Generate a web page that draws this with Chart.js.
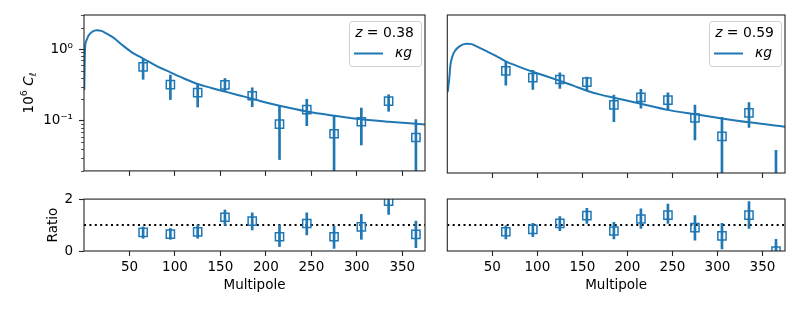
<!DOCTYPE html>
<html>
<head>
<meta charset="utf-8">
<script src="https://cdn.jsdelivr.net/npm/chart.js@4.4.1/dist/chart.umd.min.js"></script>
<style>
  html, body { margin: 0; padding: 0; background: #fff; }
  #fig { position: relative; width: 800px; height: 310px; }
  .panel { position: absolute; }
</style>
</head>
<body>
<div id="fig">
  <div class="panel" style="left:0;top:0"><canvas id="clA" width="440" height="185"></canvas></div>
  <div class="panel" style="left:440px;top:0"><canvas id="clB" width="360" height="185"></canvas></div>
  <div class="panel" style="left:0;top:185px"><canvas id="ratioA" width="440" height="125"></canvas></div>
  <div class="panel" style="left:440px;top:185px"><canvas id="ratioB" width="360" height="125"></canvas></div>
</div>
<script>
// multipole bins and axis ticks
const ellBins = [65, 95, 125, 155, 185, 215, 245, 275, 305, 335, 365];
const ellTicks = [50, 100, 150, 200, 250, 300, 350];
const ellMin = 0;
const ellMax = 375;

// z = 0.38 panel
const clA = [0.567, 0.321, 0.247, 0.317, 0.224, 0.090, 0.143, 0.066, 0.097, 0.188, 0.0585];
const clALo = [0.38, 0.198, 0.156, 0.258, 0.157, 0.0288, 0.0855, 0.015, 0.046, 0.136, 0.013];
const clAHi = [0.73, 0.435, 0.324, 0.39, 0.289, 0.16, 0.20, 0.117, 0.151, 0.231, 0.104];
const curveEllA = [0.3, 1.1, 2.5, 5, 9, 14, 19, 25, 32, 43, 54, 65, 80, 95, 110, 125, 140, 155, 170, 185, 200, 215, 245, 275, 305, 335, 375];
const curveClA = [0.27, 1.0, 1.3, 1.55, 1.75, 1.84, 1.8, 1.65, 1.46, 1.12, 0.88, 0.74, 0.58, 0.475, 0.39, 0.326, 0.288, 0.256, 0.228, 0.204, 0.18, 0.162, 0.135, 0.118, 0.105, 0.097, 0.089];
const ratioA = [0.72, 0.65, 0.74, 1.30, 1.15, 0.55, 1.06, 0.55, 0.93, 1.92, 0.64];
const ratioALo = [0.49, 0.45, 0.49, 1.0, 0.81, 0.17, 0.62, 0.10, 0.45, 1.41, 0.13];
const ratioAHi = [0.93, 0.87, 1.0, 1.58, 1.47, 1.0, 1.47, 0.96, 1.41, 2.4, 1.15];

// z = 0.59 panel
const clB = [0.509, 0.413, 0.388, 0.356, 0.174, 0.22, 0.202, 0.115, 0.064, 0.135, 0.003];
const clBLo = [0.324, 0.283, 0.292, 0.277, 0.102, 0.156, 0.147, 0.057, 0.011, 0.085, 0.001];
const clBHi = [0.676, 0.52, 0.478, 0.42, 0.237, 0.283, 0.254, 0.173, 0.117, 0.186, 0.041];
const curveEllB = [0.4, 1.9, 3.6, 6, 8.4, 13.9, 21, 27, 32, 43, 54, 65, 80, 95, 110, 125, 140, 155, 170, 185, 215, 245, 275, 305, 335, 375];
const curveClB = [0.26, 0.37, 0.63, 0.83, 0.96, 1.12, 1.21, 1.19, 1.12, 0.96, 0.82, 0.69, 0.58, 0.495, 0.43, 0.372, 0.32, 0.272, 0.24, 0.218, 0.18, 0.148, 0.129, 0.113, 0.1, 0.087];
const ratioB = [0.74, 0.83, 1.06, 1.36, 0.77, 1.23, 1.38, 0.90, 0.58, 1.38, 0.0];
const ratioBLo = [0.46, 0.55, 0.78, 1.06, 0.46, 0.87, 1.06, 0.42, 0.08, 0.87, -0.45];
const ratioBHi = [0.97, 1.06, 1.32, 1.64, 1.1, 1.62, 1.8, 1.36, 1.06, 1.9, 0.45];

// axes
const clMin = 0.02;
const clMax = 3;
const clMajor = [0.1, 1];
const clMajorText = ['10\u207B\u00B9', '10\u2070'];
const clMinor = [0.02, 0.03, 0.04, 0.05, 0.06, 0.07, 0.08, 0.09, 0.2, 0.3, 0.4, 0.5, 0.6, 0.7, 0.8, 0.9, 2, 3];
const ratioTicks = [0, 2];
const unity = 1;

const redshifts = ['0.38', '0.59'];
const seriesName = '\u03BAg';

const BLUE = '#1f77b4';
const INK = '#262626';
const FAMILY = '"DejaVu Sans", sans-serif';

Chart.defaults.font.family = FAMILY;
Chart.defaults.font.size = 13.5;
Chart.defaults.color = '#000';
Chart.defaults.animation = false;

const framePlugin = {
    id: 'frame',
    afterDraw(chart) {
        const { ctx, chartArea: a } = chart;
        ctx.save();
        ctx.strokeStyle = INK;
        ctx.lineWidth = 1.1;
        ctx.strokeRect(a.left, a.top, a.right - a.left, a.bottom - a.top);
        ctx.restore();
    },
};

const minorTickPlugin = {
    id: 'minorTicks',
    afterDraw(chart, args, opts) {
        if (!opts.values) return;
        const { ctx, chartArea: a } = chart;
        const scale = chart.scales.y;
        ctx.save();
        ctx.strokeStyle = INK;
        ctx.lineWidth = 0.8;
        ctx.beginPath();
        opts.values.forEach((v) => {
            const py = Math.round(scale.getPixelForValue(v)) + 0.5;
            ctx.moveTo(a.left - 3, py);
            ctx.lineTo(a.left, py);
        });
        ctx.stroke();
        ctx.restore();
    },
};

function fontOf(p) {
    return `${p.italic ? 'italic ' : ''}${p.size || 13.5}px ${FAMILY}`;
}

function drawPieces(ctx, pieces, x, y, align) {
    let width = 0;
    const sized = pieces.map((p) => {
        ctx.font = fontOf(p);
        const w = ctx.measureText(p.text).width;
        width += w;
        return { ...p, w };
    });
    let cx = align === 'center' ? x - width / 2 : x;
    sized.forEach((p) => {
        ctx.font = fontOf(p);
        ctx.fillText(p.text, cx, y + (p.dy || 0));
        cx += p.w;
    });
}

const yTitlePlugin = {
    id: 'clTitle',
    afterDraw(chart, args, opts) {
        if (!opts.parts) return;
        const { ctx, chartArea: a } = chart;
        ctx.save();
        ctx.translate(opts.x, (a.top + a.bottom) / 2);
        ctx.rotate(-Math.PI / 2);
        ctx.fillStyle = '#000';
        ctx.textBaseline = 'alphabetic';
        drawPieces(ctx, opts.parts, 0, 0, 'center');
        ctx.restore();
    },
};

const legendPlugin = {
    id: 'zLegend',
    afterDraw(chart, args, opts) {
        if (!opts.z) return;
        const { ctx, chartArea: a } = chart;
        const w = 72, h = 45;
        const x0 = a.right - 3.5 - w;
        const y0 = a.top + 6.5;
        ctx.save();
        ctx.beginPath();
        ctx.roundRect(x0, y0, w, h, 3);
        ctx.fillStyle = 'rgba(255,255,255,0.8)';
        ctx.fill();
        ctx.strokeStyle = '#d0d0d0';
        ctx.lineWidth = 1;
        ctx.stroke();

        ctx.fillStyle = '#000';
        ctx.textBaseline = 'middle';
        drawPieces(ctx, [
            { text: 'z', italic: true, size: 13.9 },
            { text: ' = ', size: 13.9 },
            { text: opts.z, size: 13.9 },
        ], x0 + 35, y0 + 12, 'center');

        ctx.strokeStyle = BLUE;
        ctx.lineWidth = 2;
        ctx.beginPath();
        ctx.moveTo(x0 + 4.5, y0 + 32);
        ctx.lineTo(x0 + 33.5, y0 + 32);
        ctx.stroke();
        drawPieces(ctx, [{ text: opts.label, italic: true, size: 13.9 }], x0 + 45.5, y0 + 32, 'left');
        ctx.restore();
    },
};

function xAxis(withLabels, height) {
    return {
        type: 'linear',
        min: ellMin,
        max: ellMax,
        offset: false,
        afterBuildTicks: (s) => { s.ticks = ellTicks.map((v) => ({ value: v })); },
        afterFit: (s) => { s.height = height; },
        grid: { drawOnChartArea: false, offset: false, tickLength: 5, tickWidth: 1.1, tickColor: INK },
        border: { display: false },
        ticks: { display: withLabels, padding: 3, maxRotation: 0, autoSkip: false },
        title: { display: withLabels, text: 'Multipole', padding: { top: 0, bottom: 16 } },
    };
}

function clAxis(withLabels) {
    const axis = {
        type: 'logarithmic',
        min: clMin,
        max: clMax,
        display: withLabels,
        afterBuildTicks: (s) => { s.ticks = clMajor.map((v) => ({ value: v })); },
        grid: { drawOnChartArea: false, tickLength: 5, tickWidth: 1.1, tickColor: INK },
        border: { display: false },
        ticks: { padding: 6, callback: (v) => clMajorText[clMajor.indexOf(v)] },
    };
    if (withLabels) axis.afterFit = (s) => { s.width = 84; };
    return axis;
}

function ratioAxis(withLabels) {
    const axis = {
        type: 'linear',
        min: 0,
        max: 2,
        display: withLabels,
        afterBuildTicks: (s) => { s.ticks = ratioTicks.map((v) => ({ value: v })); },
        grid: { drawOnChartArea: false, tickLength: 5, tickWidth: 1.1, tickColor: INK },
        border: { display: false },
        ticks: { padding: 6 },
        title: { display: true, text: 'Ratio', padding: { top: 45 } },
    };
    if (withLabels) axis.afterFit = (s) => { s.width = 84; };
    return axis;
}

function errorSets(values, lo, hi) {
    return [
        {
            type: 'bar',
            data: ellBins.map((x, i) => ({ x, y: [lo[i], hi[i]] })),
            backgroundColor: BLUE,
            borderWidth: 0,
            barThickness: 2,
            grouped: false,
            clip: 0,
            order: 2,
        },
        {
            type: 'line',
            data: ellBins.map((x, i) => ({ x, y: values[i] })),
            showLine: false,
            pointStyle: 'rect',
            pointRadius: 5.8,
            pointBorderWidth: 1.5,
            pointBorderColor: BLUE,
            pointBackgroundColor: 'rgba(0,0,0,0)',
            clip: 0,
            order: 1,
        },
    ];
}

function curveSet(ells, cls) {
    return {
        type: 'line',
        data: ells.map((x, i) => ({ x, y: cls[i] })),
        borderColor: BLUE,
        borderWidth: 2,
        pointRadius: 0,
        cubicInterpolationMode: 'monotone',
        clip: 0,
        order: 3,
    };
}

function unitySet() {
    return {
        type: 'line',
        data: [{ x: ellMin, y: unity }, { x: ellMax, y: unity }],
        borderColor: '#000',
        borderWidth: 2,
        borderDash: [2, 3.4],
        pointRadius: 0,
        clip: 0,
        order: 4,
    };
}

function makeChart(id, datasets, scales, padding, plugins) {
    return new Chart(document.getElementById(id), {
        type: 'line',
        data: { datasets },
        options: {
            responsive: false,
            devicePixelRatio: 1,
            events: [],
            layout: { padding },
            scales,
            plugins: {
                legend: { display: false },
                tooltip: { enabled: false },
                ...plugins,
            },
        },
        plugins: [framePlugin, minorTickPlugin, yTitlePlugin, legendPlugin],
    });
}

makeChart('clA',
    [curveSet(curveEllA, curveClA), ...errorSets(clA, clALo, clAHi)],
    { x: xAxis(false, 12), y: clAxis(true) },
    { top: 15, right: 15, left: 0, bottom: 0 },
    {
        minorTicks: { values: clMinor },
        clTitle: {
            x: 33,
            parts: [
                { text: '10' },
                { text: '6', size: 9.5, dy: -6 },
                { text: ' ' },
                { text: 'C', italic: true },
                { text: '\u2113', italic: true, size: 9.5, dy: 3 },
            ],
        },
        zLegend: { z: redshifts[0], label: seriesName },
    });

makeChart('clB',
    [curveSet(curveEllB, curveClB), ...errorSets(clB, clBLo, clBHi)],
    { x: xAxis(false, 12), y: clAxis(false) },
    { top: 15, right: 15, left: 4, bottom: 0 },
    { zLegend: { z: redshifts[1], label: seriesName } });

makeChart('ratioA',
    [unitySet(), ...errorSets(ratioA, ratioALo, ratioAHi)],
    { x: xAxis(true, 59), y: ratioAxis(true) },
    { top: 14, right: 15, left: 0, bottom: 0 },
    {});

makeChart('ratioB',
    [unitySet(), ...errorSets(ratioB, ratioBLo, ratioBHi)],
    { x: xAxis(true, 59), y: ratioAxis(false) },
    { top: 14, right: 15, left: 4, bottom: 0 },
    {});
</script>
</body>
</html>
